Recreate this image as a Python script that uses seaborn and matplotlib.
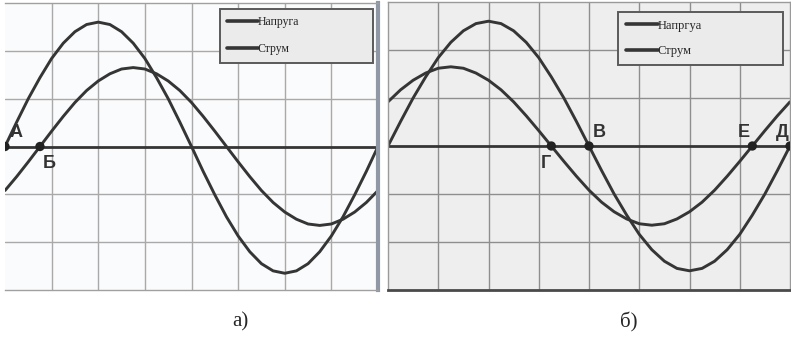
import pandas as pd
import seaborn as sns
import matplotlib.pyplot as plt
from matplotlib.lines import Line2D

sns.set_style("white")
plt.rcParams['font.family'] = ['Liberation Serif', 'DejaVu Serif']

# sample positions along the horizontal axis (grid units)
x_pts = [i * 0.25 for i in range(33)]

# panel a) values
voltage_a = [0, 0.51, 1.00, 1.44, 1.84, 2.16, 2.40, 2.55, 2.60, 2.55, 2.40, 2.16, 1.84,
             1.44, 1.00, 0.51, 0, -0.52, -1.01, -1.47, -1.87, -2.20, -2.45, -2.60, -2.65,
             -2.60, -2.45, -2.20, -1.87, -1.47, -1.01, -0.52, 0]
current_a = [-0.92, -0.63, -0.32, 0, 0.32, 0.63, 0.92, 1.17, 1.37, 1.52, 1.62, 1.65, 1.62,
             1.52, 1.37, 1.17, 0.92, 0.63, 0.32, 0, -0.32, -0.63, -0.92, -1.17, -1.37,
             -1.52, -1.62, -1.65, -1.62, -1.52, -1.37, -1.17, -0.92]

# panel б)
voltage_b = [0, 0.51, 1.00, 1.44, 1.84, 2.16, 2.40, 2.55, 2.60, 2.55, 2.40, 2.16, 1.84,
             1.44, 1.00, 0.51, 0, -0.51, -1.00, -1.44, -1.84, -2.16, -2.40, -2.55, -2.60,
             -2.55, -2.40, -2.16, -1.84, -1.44, -1.00, -0.51, 0]
current_b = [0.92, 1.17, 1.37, 1.52, 1.62, 1.65, 1.62, 1.52, 1.37, 1.17, 0.92, 0.63, 0.32,
             0, -0.32, -0.63, -0.92, -1.17, -1.37, -1.52, -1.62, -1.65, -1.62, -1.52, -1.37,
             -1.17, -0.92, -0.63, -0.32, 0, 0.32, 0.63, 0.92]

points_a_x = [0, 0.75]
points_a_lbl = ["А", "Б"]
points_b_x = [3.25, 4, 7.25, 8]
points_b_lbl = ["Г", "В", "Е", "Д"]

legend_a = ["Напруга", "Струм"]
legend_b = ["Напргуа", "Струм"]

ink = "#353535"

fig = plt.figure(figsize=(7.91, 3.44), dpi=100)
ax_a = fig.add_axes([5 / 791, 54 / 344, 373 / 791, 287 / 344])
ax_b = fig.add_axes([388 / 791, 54 / 344, 402 / 791, 288 / 344])


def draw_panel(ax, volt, curr, px, plbl, lbl_pos, leg_labels, face, gridc, leg_box,
               leg_fs, leg_sp, leg_pad):
    ax.set_facecolor(face)
    df = pd.DataFrame({"x": x_pts * 2, "y": volt + curr,
                       "s": ["v"] * len(volt) + ["c"] * len(curr)})
    sns.lineplot(data=df, x="x", y="y", units="s", estimator=None, color=ink,
                 lw=2.1, ax=ax, legend=False, solid_joinstyle="round")
    ax.axhline(0, color=ink, lw=2.0, zorder=1)
    sns.scatterplot(x=px, y=[0] * len(px), color="#222222", s=45, ax=ax,
                    zorder=5, edgecolor="none", legend=False)
    for lbl, (tx, ty, ha, va) in zip(plbl, lbl_pos):
        ax.text(tx, ty, lbl, ha=ha, va=va, fontsize=13, fontweight="bold",
                color="#333333", family=["Liberation Sans", "DejaVu Sans"], zorder=6)
    ax.set_xlim(0, 8)
    ax.set_ylim(-3, 3)
    ax.set_xticks(range(1, 8))
    ax.set_yticks([-2, -1, 1, 2])
    ax.tick_params(length=0, labelbottom=False, labelleft=False)
    ax.grid(True, color=gridc, lw=1.0)
    ax.set_xlabel("")
    ax.set_ylabel("")
    handles = [Line2D([], [], color=ink, lw=2.6), Line2D([], [], color=ink, lw=2.6)]
    leg = ax.legend(handles, leg_labels, loc="upper left", bbox_to_anchor=leg_box,
                    mode="expand", fontsize=leg_fs, frameon=True, fancybox=False,
                    handlelength=2.6, handletextpad=0.0, labelspacing=leg_sp,
                    borderpad=leg_pad, borderaxespad=0)
    leg.get_frame().set_edgecolor("#5a5a5a")
    leg.get_frame().set_linewidth(1.4)
    leg.get_frame().set_facecolor("#ebebeb")
    leg.get_frame().set_alpha(1)


draw_panel(ax_a, voltage_a, current_a, points_a_x, points_a_lbl,
           [(0.1, 0.12, "left", "bottom"), (0.8, -0.17, "left", "top")],
           legend_a, "#fafbfc", "#a9a9a9",
           ((220 - 5) / 373, 1 - (9 - 3) / 287, (373 - 220) / 373, 0), 8.5, 1.3, 0.6)
draw_panel(ax_b, voltage_b, current_b, points_b_x, points_b_lbl,
           [(3.24, -0.18, "right", "top"), (4.08, 0.1, "left", "bottom"),
            (7.2, 0.1, "right", "bottom"), (7.97, 0.1, "right", "bottom")],
           legend_b, "#eeeeee", "#8e8e8e",
           ((618 - 388) / 402, 1 - (12 - 2) / 288, (783 - 618) / 402, 0), 9, 1.1, 0.6)

for sp in ax_a.spines.values():
    sp.set_color("#a0a0a0")
    sp.set_linewidth(1.0)
ax_a.spines["left"].set_visible(False)
ax_a.spines["right"].set_color("#8f98a4")
ax_a.spines["right"].set_linewidth(3)
for sp in ax_b.spines.values():
    sp.set_color("#9a9a9a")
    sp.set_linewidth(1.0)
ax_b.spines["bottom"].set_color("#4a4a4a")
ax_b.spines["bottom"].set_linewidth(2)

fig.text(240 / 791, 1 - 322 / 344, "а)", ha="center", va="center", fontsize=15)
fig.text(629 / 791, 1 - 322 / 344, "б)", ha="center", va="center", fontsize=15)

fig.savefig("out.png", dpi=100)
